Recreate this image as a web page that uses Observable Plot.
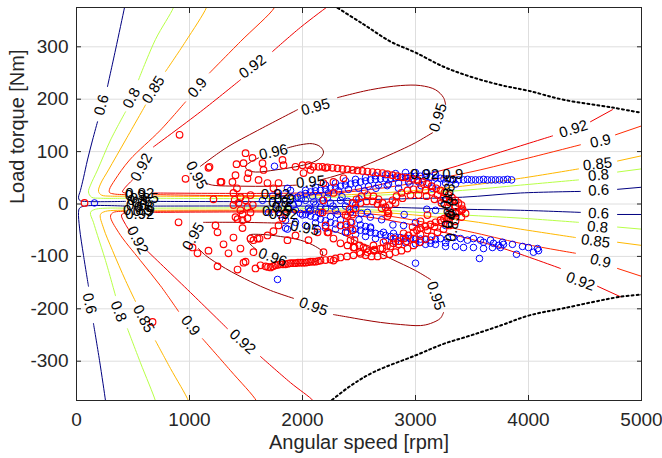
<!DOCTYPE html>
<html><head><meta charset="utf-8">
<script src="https://cdn.jsdelivr.net/npm/d3@7"></script>
<script src="https://cdn.jsdelivr.net/npm/@observablehq/plot@0.6"></script>
<style>body{margin:0;background:#fff;}#chart{width:662px;height:458px;}</style>
</head><body><div id="chart"></div>
<script>
const xTicks = [0, 1000, 2000, 3000, 4000, 5000];
const yTicks = [-300, -200, -100, 0, 100, 200, 300];
const levelNames = ["0.6", "0.8", "0.85", "0.9", "0.92", "0.95", "0.96"];
const levelColors = ["#000080", "#b8ff47", "#ffb800", "#ff2b00", "#f10000", "#9c0000", "#800000"];

// contour polylines [rpm, Nm], split where MATLAB put labels
const c060 = [
 [[435,385],[425,375],[345,294],[274,224]],
 [[186,157],[142,122],[97,84],[62,50],[35,26],[18,13],[27,7],[71,5],[434,5]],
 [[681,5],[1982,5],[2690,9],[3416,13],[3929,21],[4460,24]],
 [[4788,28],[5000,32]],
 [[5000,-20],[4788,-20]],
 [[4460,-16],[3929,-12],[3416,-10],[2690,-6],[1982,-4],[681,-4]],
 [[434,-4],[71,-4],[27,-8],[18,-16],[27,-46],[62,-98],[106,-157]],
 [[150,-228],[204,-299],[257,-376],[262,-385]]
];
const c080 = [
 [[868,385],[858,375],[699,314],[549,237]],
 [[434,176],[301,122],[186,65],[124,36],[106,23],[133,13],[212,11],[434,11]],
 [[681,11],[1982,11],[2690,17],[3416,26],[3929,36],[4443,46]],
 [[4788,61],[5000,67]],
 [[5000,-48],[4788,-44]],
 [[4443,-35],[3929,-27],[3425,-21],[2690,-12],[1982,-8],[681,-8]],
 [[434,-8],[168,-10],[124,-16],[150,-35],[186,-60],[257,-108],[345,-175]],
 [[451,-238],[566,-303],[699,-376],[708,-385]]
];
const c085 = [
 [[1160,385],[1150,375],[965,310],[788,253]],
 [[611,189],[434,122],[283,65],[212,38],[195,24],[221,17],[301,15],[434,15]],
 [[681,15],[1982,15],[2690,21],[3416,34],[3929,49],[4443,67]],
 [[4788,82],[5000,92]],
 [[5000,-79],[4788,-73]],
 [[4416,-64],[3929,-48],[3425,-31],[2690,-16],[1982,-12],[681,-12]],
 [[434,-12],[257,-14],[212,-20],[239,-46],[319,-89],[434,-146],[522,-186]],
 [[699,-261],[832,-314],[991,-376],[1000,-385]]
];
const c090 = [
 [[1765,385],[1752,375],[1451,310],[1177,250]],
 [[965,195],[743,141],[470,84],[340,46],[292,28],[292,22],[336,19],[434,18]],
 [[681,18],[1982,17],[2690,30],[3443,59],[3929,84],[4460,113]],
 [[4770,132],[5000,149]],
 [[5000,-138],[4788,-123]],
 [[4416,-94],[3929,-75],[3460,-52],[2690,-21],[1982,-14],[681,-14]],
 [[434,-14],[327,-16],[301,-23],[372,-54],[566,-108],[743,-156],[903,-205]],
 [[1115,-257],[1363,-318],[1593,-376],[1605,-385]]
];
const c092 = [
 [[2340,395],[2274,385],[1982,337],[1735,291]],
 [[1451,237],[1097,176],[681,109]],
 [[496,46],[425,30],[407,23],[434,21]],
 [[681,21],[1982,21],[2425,26],[2867,46],[3248,65],[3752,99],[4213,130]],
 [[4549,157],[4743,180]],
 [[4814,-177],[4611,-157]],
 [[4283,-123],[3779,-85],[3398,-62],[2867,-35],[2425,-21],[1982,-16],[681,-16]],
 [[434,-16],[398,-21],[434,-39],[478,-54]],
 [[628,-90],[1009,-169],[1336,-238]],
 [[1628,-291],[1894,-341],[2097,-376],[2120,-385]]
];
const c095 = [
 [[1097,72],[1330,108],[1600,140],[1956,180]],
 [[2310,203],[2602,218],[2867,226],[3044,226],[3177,218],[3248,203],[3266,190]],
 [[3151,136],[3000,117],[2867,103],[2602,78],[2425,63],[2248,51],[2177,47]],
 [[1947,36],[1717,34],[1451,34],[1204,36],[1142,40]],
 [[1124,-35],[1451,-35],[1894,-37]],
 [[2204,-50],[2310,-54],[2513,-75],[2779,-104],[3000,-127],[3133,-144]],
 [[3248,-207],[3221,-218],[3133,-228],[3044,-232],[2867,-230],[2690,-226],[2540,-221],[2381,-215],[2274,-211]],
 [[1920,-180],[1717,-165],[1540,-148],[1319,-123],[1142,-98],[1080,-85]]
];
const c096 = [
 [[1867,107],[1982,113],[2089,115],[2159,109],[2186,99],[2159,88],[2071,78],[1938,71],[1761,65],[1584,61],[1513,65],[1496,72],[1540,80],[1611,88]],
 [[1894,-113],[2071,-112],[2159,-104],[2177,-92],[2115,-81],[1982,-69],[1805,-62],[1628,-58],[1522,-60],[1513,-69],[1558,-81],[1593,-87]]
];

// contour labels [rpm, Nm, angle, text]
const contourLabels = [
 [221,189,-75,"0.6"],[487,202,-62,"0.8"],[681,218,-58,"0.85"],[1071,222,-50,"0.9"],
 [1558,262,-37,"0.92"],[575,70,-62,"0.92"],[1062,55,62,"0.95"],[2115,185,-15,"0.95"],
 [1743,99,-12,"0.96"],[3200,165,-72,"0.95"],[2071,42,-5,"0.95"],
 [115,-190,78,"0.6"],[372,-205,68,"0.8"],[593,-219,62,"0.85"],[1009,-232,52,"0.9"],
 [1469,-263,42,"0.92"],[540,-69,62,"0.92"],[1035,-62,-60,"0.95"],[2020,-46,10,"0.95"],
 [1735,-102,20,"0.96"],[2097,-196,20,"0.95"],[3180,-175,72,"0.95"],
 [4398,143,-17,"0.92"],[4637,120,-12,"0.9"],[4611,76,-6,"0.85"],[4620,55,-5,"0.8"],
 [4620,26,-3,"0.6"],[4620,-18,2,"0.6"],[4611,-44,5,"0.8"],[4593,-71,8,"0.85"],
 [4637,-109,14,"0.9"],[4460,-148,20,"0.92"],
 [560,21,0,"0.92"],[520,16,0,"0.9"],[600,12,0,"0.85"],[540,8,0,"0.8"],[580,4,0,"0.6"],
 [530,-3,0,"0.6"],[600,-7,0,"0.8"],[540,-11,0,"0.85"],[590,-14,0,"0.9"],[560,-19,0,"0.92"],
 [1760,18,0,"0.92"],[1840,10,0,"0.9"],[1790,3,0,"0.8"],
 [1820,-6,0,"0.6"],[1770,-13,0,"0.85"],[1830,-20,0,"0.92"],
 [3080,57,0,"0.92"],[3330,56,0,"0.9"],[3300,28,-80,"0.85"],[3280,10,-80,"0.8"],
 [3320,-8,-80,"0.6"],[3290,-27,-80,"0.8"],[3330,-44,-80,"0.85"]
];

// torque / power limit
const limitUpper = [[2240,385],[2292,377],[2540,343],[2779,310],[3000,289],[3248,262],[3487,243],[3752,227],[4000,216],[4310,199],[4743,184],[5000,174]];
const limitLower = [[2190,-385],[2248,-376],[2425,-347],[2628,-321],[3000,-289],[3248,-267],[3487,-251],[3752,-232],[4000,-213],[4310,-199],[4814,-177],[5000,-173]];

// operating points [rpm, Nm]
const redPts = [
 [71,2],[912,132],[673,-225],[965,48],[1177,71],[1283,42],[1212,9],[903,-35],[1027,-83],[1071,-94],[1168,-89],[1248,-54],[1301,-77],[1345,-94],[1389,-64],[1248,-119],[1425,-125],[1496,-110],[1469,-46],[1451,-85],[1566,-69],[1478,78],[1558,88],[1416,76],[1496,97],[1380,42],[1274,42],[1168,69],[1407,55],[1513,49],[1522,59],[1611,46],[1646,78],[1655,65],[1690,40],[1743,30],[1788,40],[1823,84],[1832,74],[1938,71],[2000,74],[2053,74],[2097,71],[2142,71],[2204,69],[1230,-41],
 [1389,21],[1451,13],[1434,2],[1496,7],[1389,-2],[1451,-12],[1513,-6],[1407,-25],[1469,-31],[1513,-27],[1540,17],[1540,-16],[1420,30],[1560,-2],[1470,-20],[1400,8],
 [1602,-66],[1690,-60],[1540,-66],[1620,-66],[1743,-52],[1788,-41],[1823,-27],[1425,-29],[1478,-112],[1566,-92],[1584,-123],[1628,-117],
 [1673,-119],[1717,-121],[1761,-117],[1805,-115],[1850,-115],[1894,-113],[1938,-113],[1982,-112],[2027,-112],[2071,-110],[2115,-110],
 [1695,-120],[1739,-119],[1783,-116],[1827,-115],[1872,-114],[1916,-113],[1960,-112],[2004,-112],[2049,-111],[2093,-110],[2137,-109],
 [2159,-108],[2248,-106],[2336,-102],[2451,-98],[2575,-92],[2690,-85],[2805,-75],[2894,-66],[2982,-54],[3044,-46],[3133,-39],[3221,-31],[3283,-25],[3354,-18],[3416,-10],
 [2203,-107],[2292,-104],[2394,-100],[2513,-95],[2632,-89],[2747,-80],[2850,-71],[2938,-60],[3013,-50],[3088,-43],[3177,-35],[3252,-28],[3318,-22],[3385,-14],
 [2177,71],[2266,69],[2354,67],[2443,65],[2531,63],[2620,61],[2708,59],[2797,55],[2885,51],[2974,48],[3062,42],[3142,34],[3221,26],[3292,17],[3354,7],[3407,-2],
 [2221,70],[2310,68],[2398,66],[2487,64],[2575,62],[2664,60],[2752,57],[2841,53],[2929,50],[3018,45],[3102,38],[3182,30],[3257,22],[3323,12],[3380,2],
 [2221,-54],[2274,-66],[2336,-75],[2398,-79],[2451,-83],[2540,-83],[2628,-79],[2717,-73],[2805,-66],[2894,-56],[2974,-44],[3044,-33],[3106,-21],
 [2425,-69],[2398,-54],[2390,-39],[2398,-23],[2416,-10],[2443,2],[2478,9],[2522,15],[2575,17],[2628,15],[2673,9],[2708,2],[2735,-6],[2752,-14],
 [2770,-2],[2797,7],[2832,15],[2876,21],[2929,26],[2982,28],[3036,28],[3089,26],[3142,23],[3195,17],[3248,11],[3301,3],[3354,-4],[3407,-12],[3443,-18],
 [3407,-25],[3354,-33],[3301,-41],[3248,-48],[3195,-54],[3142,-62],[3089,-67],[3036,-73],[2982,-79],[2929,-85],[2876,-89],[2823,-92],[2770,-96],[2717,-98],[2664,-100],[2611,-100],[2558,-98],[2505,-92],[2460,-83],
 [2823,2],[2885,11],[2956,17],[3027,17],[3098,15],[3168,9],[3230,2],[3292,-6],[3354,-16],[3292,-27],[3230,-35],[3168,-43],[3106,-50],[3044,-58],[2982,-66],[2921,-71],[2850,-77],[2779,-81],[2708,-85],[2637,-87],[2567,-85],[2505,-79],[2460,-69],
 [2443,-50],[2434,-35],[2443,-20],[2469,-8],[2513,2],[2567,5],[2620,5],[2664,0],[2700,-8],[2761,-18],[2752,-23],
 [2177,-16],[2204,-41],[2230,-54],[2186,-92],[2274,-108],[2186,7],[2274,21],[2186,40],[2274,42],[2363,49],[1938,-60],[1867,-69],[2053,-69],[2133,-54],[2336,-41],[2381,-21],[2071,65],[2009,59]
];
const bluePts = [
 [159,2],[1752,72],[1867,30],[1956,13],[1867,-48],[2133,-48],[1779,-144],[1850,-46],[3000,-113],[3566,-104],[3894,-96],
 [1982,17],[2071,23],[2159,26],[2248,30],[2336,34],[2425,38],[2513,42],[2602,46],[2690,48],[2779,49],[2867,51],[2956,53],[3044,53],[3133,51],[3221,49],[3283,48],[3336,46],
 [2027,20],[2115,25],[2204,28],[2292,32],[2381,36],[2469,40],[2558,44],[2646,47],[2735,49],[2823,50],[2912,52],[3000,53],[3089,52],[3177,50],[3252,48],[3310,47],
 [2115,32],[2204,36],[2292,40],[2381,44],[2469,47],[2558,51],[2646,54],[2735,56],[2823,58],[2912,60],[3000,60],[3089,59],[3177,57],
 [3381,46],[3425,46],[3460,47],[3496,46],[3531,46],[3566,46],[3602,47],[3637,46],[3673,46],[3708,46],[3743,46],[3779,46],[3814,47],[3850,46],[3266,40],[3354,38],
 [2027,26],[2142,15],[2230,21],[2319,25],[2407,28],[2496,30],[2584,34],[2673,36],[2761,38],[2850,40],[2938,42],[3027,42],[3115,40],[3195,38],
 [1646,7],[1699,-16],[1735,15],[1770,-2],[1805,-20],[1832,9],[1876,-6],[1912,11],[1938,-12],[1965,2],[2000,-21],[2027,7],[2053,-8],[2089,15],[2115,-2],[2142,-16],[2177,7],[2204,-8],[2248,2],[2292,-12],[2336,7],[2381,-4],[2425,-16],[2469,-2],[1850,-31],[1938,-35],[2027,-41],[1788,21],[1894,26],
 [1920,-2],[1990,10],[2060,-14],[2100,4],[2160,-6],[2220,12],[2270,-4],[2310,-20],[2350,14],[2400,5],[2450,-10],[2500,10],[2520,-18],
 [1982,-18],[2071,-23],[2159,-29],[2248,-35],[2336,-41],[2425,-46],[2513,-50],[2602,-54],[2690,-58],[2779,-62],[2867,-64],[2956,-66],[3044,-67],[3133,-69],[3221,-66],[3283,-66],[3336,-64],[3398,-66],[3460,-69],[3513,-66],[3575,-69],[3602,-73],[3664,-69],[3690,-75],[3735,-79],[3770,-73],
 [2027,-20],[2115,-26],[2204,-32],[2292,-38],[2381,-44],[2469,-48],[2558,-52],[2646,-56],[2735,-60],[2823,-63],[2912,-65],[3000,-67],[3089,-68],[3177,-68],
 [2115,-36],[2204,-42],[2292,-48],[2381,-54],[2469,-58],[2558,-62],[2646,-66],[2735,-70],[2823,-72],[2912,-74],[3000,-76],[3089,-77],[3177,-77],[3266,-74],
 [2071,-12],[2159,-18],[2248,-24],[2336,-30],[2425,-35],[2513,-40],[2602,-44],
 [3266,-81],[3354,-81],[3425,-83],[3513,-83],[3602,-85],[3681,-83],[3752,-83],[3779,-77],[3858,-77],[3947,-81],[4000,-83],[4044,-92],[4080,-85],[4089,-89],
 [2204,-46],[2381,-54],[2558,-43],[2717,-54],[2805,-56],[2894,-41],[3044,-73],[3133,-75],[2575,-16],[2602,-46],[3177,-12],[3221,7],[3266,-41],[3310,-21],
 [2700,-30],[2800,-40],[2900,-20],[3000,-35],[3100,-10],[2650,30],[2750,35],[2850,30],[2950,38],[3050,35],[3150,30],[2600,-25],[2500,-30],[2550,25]
];

const contourSets = [["0.6", c060], ["0.8", c080], ["0.85", c085], ["0.9", c090], ["0.92", c092], ["0.95", c095], ["0.96", c096]];
const contourRows = [];
contourSets.forEach(([lev, segs]) => segs.forEach((seg, j) => seg.forEach(([x, y]) => contourRows.push({lev, seg: lev + "-" + j, x, y}))));

const font = "'Liberation Sans', Arial, Helvetica, sans-serif";
const ink = "#262626";

const chart = Plot.plot({
  width: 662, height: 458,
  marginLeft: 76, marginRight: 21, marginTop: 7, marginBottom: 58,
  x: {domain: [0, 5000], label: null},
  y: {domain: [-375, 375], label: null},
  color: {domain: levelNames, range: levelColors},
  style: {fontFamily: font, fontSize: "19px", color: ink, background: "white", overflow: "visible"},
  marks: [
    Plot.gridX(xTicks, {stroke: "#dedede", strokeOpacity: 1}),
    Plot.gridY(yTicks, {stroke: "#dedede", strokeOpacity: 1}),
    Plot.line(contourRows, {x: "x", y: "y", z: "seg", stroke: "lev", strokeWidth: 1, curve: "catmull-rom", clip: true}),
    Plot.line(limitUpper, {x: d => d[0], y: d => d[1], stroke: "black", strokeWidth: 2, strokeDasharray: "2,3", curve: "catmull-rom", clip: true}),
    Plot.line(limitLower, {x: d => d[0], y: d => d[1], stroke: "black", strokeWidth: 2, strokeDasharray: "2,3", curve: "catmull-rom", clip: true}),
    Plot.dot(bluePts, {x: d => d[0], y: d => d[1], r: 3.3, stroke: "#0000ff", strokeWidth: 1, fill: "none"}),
    Plot.dot(redPts, {x: d => d[0], y: d => d[1], r: 3.3, stroke: "#ff0000", strokeWidth: 1.15, fill: "none"}),
    Plot.text(contourLabels, {x: d => d[0], y: d => d[1], rotate: d => d[2], text: d => d[3], fontSize: 15, fill: "black", clip: true}),
    Plot.frame({stroke: ink, strokeWidth: 1}),
    Plot.axisX(xTicks, {anchor: "bottom", tickSize: -5, tickPadding: 17, tickFormat: d => String(d), stroke: ink, fill: ink, label: null}),
    Plot.axisX(xTicks, {anchor: "top", tickSize: -5, tickFormat: () => "", stroke: ink, label: null}),
    Plot.axisY(yTicks, {anchor: "left", tickSize: -5, tickPadding: 13, tickFormat: d => String(d), stroke: ink, fill: ink, label: null}),
    Plot.axisY(yTicks, {anchor: "right", tickSize: -5, tickFormat: () => "", stroke: ink, label: null}),
    Plot.text(["Angular speed [rpm]"], {frameAnchor: "bottom", dy: 48, fontSize: 20, fill: ink}),
    Plot.text(["Load torque [Nm]"], {frameAnchor: "left", dx: -59, rotate: -90, fontSize: 20, fill: ink})
  ]
});
document.getElementById("chart").appendChild(chart);
</script>
</body></html>
